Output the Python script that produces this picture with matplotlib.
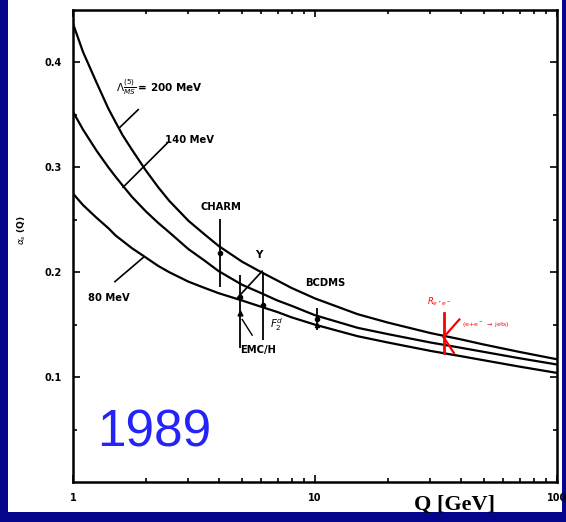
import numpy as np
import matplotlib.pyplot as plt
from matplotlib.patches import Rectangle

# alpha_s(Q) curves
q = [1, 1.1, 1.25, 1.4, 1.5, 1.6, 1.75, 2, 2.25, 2.5, 3, 3.5, 4, 5, 6, 7, 8, 10,
     15, 20, 30, 40, 50, 70, 100]
alpha_200 = [0.437, 0.410, 0.381, 0.356, 0.343, 0.331, 0.317, 0.297, 0.281, 0.268,
             0.249, 0.236, 0.225, 0.210, 0.200, 0.192, 0.185, 0.175,
             0.160, 0.152, 0.142, 0.136, 0.131, 0.124, 0.117]
alpha_140 = [0.353, 0.336, 0.316, 0.300, 0.291, 0.283, 0.272, 0.258, 0.247, 0.238,
             0.222, 0.211, 0.201, 0.188, 0.180, 0.173, 0.168, 0.159,
             0.147, 0.141, 0.133, 0.128, 0.124, 0.118, 0.112]
alpha_80 = [0.275, 0.264, 0.252, 0.242, 0.235, 0.230, 0.223, 0.214, 0.206, 0.200,
            0.191, 0.185, 0.180, 0.173, 0.167, 0.162, 0.157, 0.150,
            0.139, 0.133, 0.125, 0.120, 0.116, 0.110, 0.104]

# measurements (Q, central value, low, high)
meas_names = ['CHARM', 'EMC/H', 'F2d', 'BCDMS']
meas_q = [4.05, 4.9, 6.1, 10.2]
meas_val = [0.218, 0.176, 0.169, 0.155]
meas_lo = [0.186, 0.128, 0.135, 0.145]
meas_hi = [0.251, 0.197, 0.200, 0.166]

ree_q = 34.0
ree_lo, ree_hi = 0.123, 0.161

fig = plt.figure(figsize=(5.66, 5.22), dpi=100)
fig.patch.set_facecolor('#05058c')
fig.patches.append(Rectangle((8 / 566, 10 / 522), 554 / 566, 512 / 522,
                             transform=fig.transFigure, facecolor='white',
                             edgecolor='none', zorder=-5))

ax = fig.add_axes([73 / 566, 40 / 522, 484 / 566, 472 / 522])
ax.set_facecolor('white')
ax.set_xscale('log')
ax.set_xlim(1, 100)
ax.set_ylim(0, 0.45)

for a in [alpha_200, alpha_140, alpha_80]:
    ax.plot(q, a, color='black', lw=1.6)

# error bars
lo = np.array(meas_val) - np.array(meas_lo)
hi = np.array(meas_hi) - np.array(meas_val)
ax.errorbar(meas_q, meas_val, yerr=[lo, hi], fmt='o', ms=3, color='black',
            elinewidth=1.3, capsize=0)
ax.plot([4.9], [0.161], marker='^', ms=3.5, color='black')
ax.plot([10.2], [0.150], marker='^', ms=3, color='black')
# Upsilon stroke
ax.plot([6.05, 4.8], [0.201, 0.176], color='black', lw=1.2)
ax.plot([5.0, 5.5], [0.155, 0.140], color='black', lw=1.0)

# e+e- (red)
ax.plot([ree_q, ree_q], [ree_lo, ree_hi], color='red', lw=2)
ax.plot([ree_q, 39.5], [0.138, 0.155], color='red', lw=1.6)
ax.plot([ree_q, 37.5], [0.138, 0.123], color='red', lw=1.6)

# pointer lines
ax.plot([1.56, 1.86], [0.338, 0.355], color='black', lw=1.2)
ax.plot([1.61, 2.45], [0.281, 0.323], color='black', lw=1.2)
ax.plot([1.49, 1.95], [0.191, 0.214], color='black', lw=1.2)

fs = 7.2
ax.text(1.5, 0.376, r'$\Lambda^{(5)}_{\overline{MS}}$ = 200 MeV', fontsize=7.5,
        fontweight='bold', va='center')
ax.text(2.4, 0.326, '140 MeV', fontsize=fs, fontweight='bold', va='center')
ax.text(1.15, 0.175, '80 MeV', fontsize=fs, fontweight='bold', va='center')
ax.text(4.1, 0.262, 'CHARM', fontsize=fs, fontweight='bold', ha='center', va='center')
ax.text(5.87, 0.216, 'Υ', fontsize=7.5, fontweight='bold', ha='center', va='center')
ax.text(9.1, 0.190, 'BCDMS', fontsize=fs, fontweight='bold', va='center')
ax.text(5.8, 0.126, 'EMC/H', fontsize=fs, fontweight='bold', ha='center', va='center')
ax.text(6.5, 0.150, r'$F_2^d$', fontsize=7.5, va='center')
ax.text(29, 0.172, r'$R_{e^+e^-}$', fontsize=6, color='red', va='center')
ax.text(40.5, 0.150, r'(e+e$^-$ $\rightarrow$ jets)', fontsize=4.5, color='red', va='center')

ax.text(0.05, 0.075, '1989', transform=ax.transAxes, fontsize=37,
        family='Liberation Sans', color='#2424f8', va='baseline')

ax.set_yticks([0.1, 0.2, 0.3, 0.4])
ax.set_yticklabels(['0.1', '0.2', '0.3', '0.4'])
ax.set_yticks(np.arange(0.05, 0.45, 0.1), minor=True)
ax.set_xticks([1, 10, 100])
ax.set_xticklabels(['1', '10', '100'])
ax.tick_params(which='both', direction='in', top=True, right=True, width=1.2)
ax.tick_params(which='major', length=5, labelsize=7, pad=8)
ax.tick_params(which='minor', length=3)
for lab in ax.get_xticklabels() + ax.get_yticklabels():
    lab.set_fontweight('bold')
for s in ax.spines.values():
    s.set_linewidth(1.8)

fig.text(22 / 566, 1 - 230 / 522, r'$\alpha_s$ (Q)', rotation=90, fontsize=6.5,
         fontweight='bold', ha='center', va='center')
fig.text(455 / 566, 1 - 505 / 522, 'Q [GeV]', family='Liberation Serif',
         fontweight='bold', fontsize=16, ha='center', va='center')

fig.savefig('out.png', dpi=100)
